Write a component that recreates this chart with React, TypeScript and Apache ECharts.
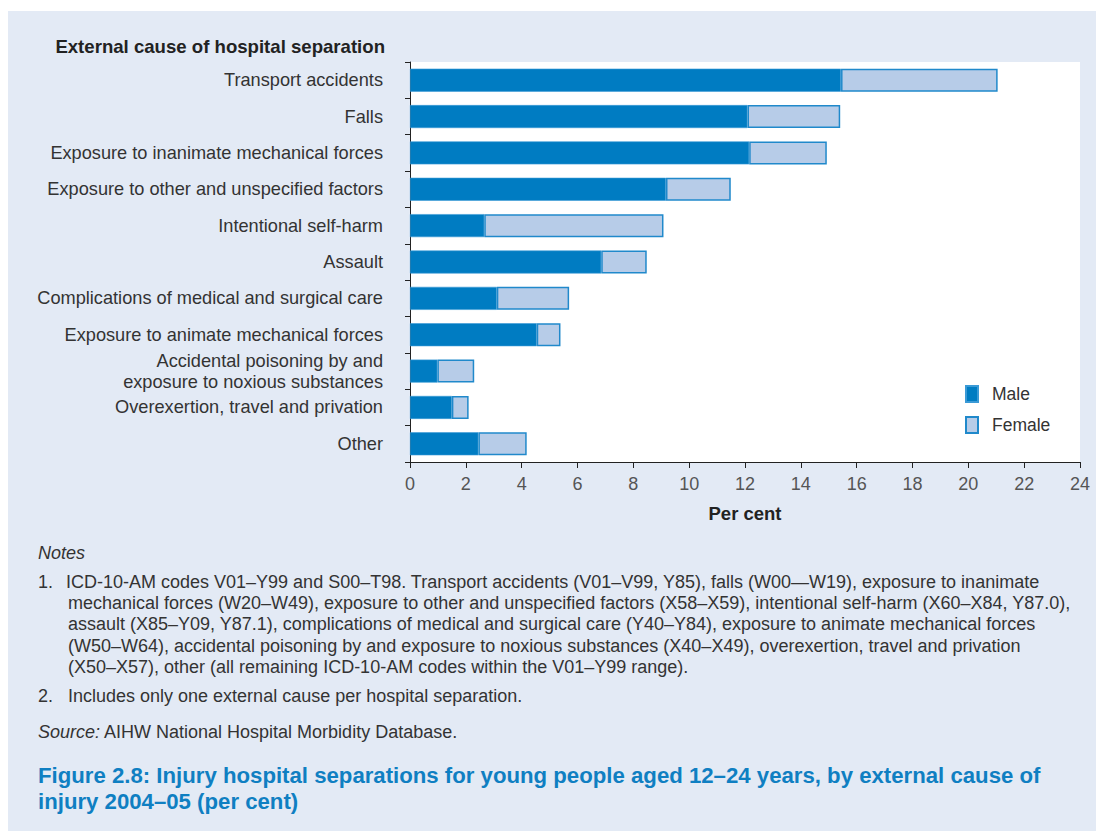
import React, { useEffect, useRef } from "react";
import * as echarts from "echarts";

const categories = [
  "Transport accidents",
  "Falls",
  "Exposure to inanimate mechanical forces",
  "Exposure to other and unspecified factors",
  "Intentional self-harm",
  "Assault",
  "Complications of medical and surgical care",
  "Exposure to animate mechanical forces",
  "Accidental poisoning by and\nexposure to noxious substances",
  "Overexertion, travel and privation",
  "Other",
];
const male = [15.44, 12.09, 12.15, 9.17, 2.66, 6.85, 3.11, 4.54, 0.98, 1.5, 2.45];
const female = [5.61, 3.32, 2.78, 2.32, 6.42, 1.63, 2.59, 0.85, 1.32, 0.6, 1.73];
const xTicks = { min: 0, max: 24, interval: 2 };

const yTitle = "External cause of hospital separation";
const xTitle = "Per cent";
const notesHead = "Notes";
const note1 = [
  "ICD-10-AM codes V01–Y99 and S00–T98. Transport accidents (V01–V99, Y85), falls (W00—W19), exposure to inanimate",
  "mechanical forces (W20–W49), exposure to other and unspecified factors (X58–X59), intentional self-harm (X60–X84, Y87.0),",
  "assault (X85–Y09, Y87.1), complications of medical and surgical care (Y40–Y84), exposure to animate mechanical forces",
  "(W50–W64), accidental poisoning by and exposure to noxious substances (X40–X49), overexertion, travel and privation",
  "(X50–X57), other (all remaining ICD-10-AM codes within the V01–Y99 range).",
];
const note2 = "Includes only one external cause per hospital separation.";
const source = "AIHW National Hospital Morbidity Database.";
const figTitle = [
  "Figure 2.8: Injury hospital separations for young people aged 12–24 years, by external cause of",
  "injury 2004–05 (per cent)",
];

const FONT = '"Liberation Sans", Arial, Helvetica, sans-serif';
const TXT = "#333333";
const MALE = "#007cc2";
const FEMALE = "#b7cce8";
const BORDER = "#2089cb";
const FS = 18;

export default function App() {
  const ref = useRef<HTMLDivElement>(null);
  useEffect(() => {
    document.body.style.margin = "0";
    if (!ref.current) return;
    const chart = echarts.init(ref.current, null, { renderer: "svg" });
    const t = (x: number, y: number, text: string, extra: any = {}) => ({
      type: "text",
      x,
      y,
      style: {
        text,
        fill: TXT,
        fontSize: FS,
        fontFamily: FONT,
        align: "left",
        verticalAlign: "middle",
        ...extra,
      },
    });
    const noteY = [582, 603, 624, 646, 667];
    const graphics: any[] = [
      t(385, 46, yTitle, { align: "right", fontWeight: "bold", fill: "#222", fontSize: 18.6 }),
      t(38, 553, notesHead, { fontStyle: "italic" }),
      t(38, 582, "1."),
      ...note1.map((s, i) => t(i === 0 ? 66 : 68, noteY[i], s)),
      t(38, 696, "2."),
      t(68, 696, note2),
      t(38, 732, "{i|Source:} " + source, {
        rich: { i: { fontStyle: "italic", fontSize: FS, fontFamily: FONT, fill: TXT } },
      }),
      ...figTitle.map((s, i) =>
        t(38, [775, 801][i], s, { fontWeight: "bold", fontSize: 22.2, fill: "#0f7fc2" })
      ),
    ];
    chart.setOption({
      animation: false,
      textStyle: { fontFamily: FONT },
      grid: {
        left: 410,
        right: 16,
        top: 62,
        bottom: 369,
        show: true,
        backgroundColor: "#ffffff",
        borderWidth: 0,
      },
      legend: {
        orient: "vertical",
        left: 965,
        top: 385,
        padding: 0,
        itemWidth: 12,
        itemHeight: 16,
        itemGap: 13,
        icon: "rect",
        textStyle: {
          fontSize: 17.5,
          lineHeight: 16,
          color: TXT,
          fontFamily: FONT,
          padding: [0, 0, 0, 9],
        },
        data: ["Male", "Female"],
      },
      xAxis: {
        type: "value",
        min: xTicks.min,
        max: xTicks.max,
        interval: xTicks.interval,
        name: xTitle,
        nameLocation: "middle",
        nameGap: 42,
        nameTextStyle: { fontSize: 18.5, fontWeight: "bold", color: "#222", fontFamily: FONT },
        axisLine: { show: true, lineStyle: { color: "#222", width: 1 } },
        axisTick: { show: true, length: 6, lineStyle: { color: "#222" } },
        axisLabel: { fontSize: FS, color: "#555", margin: 13, fontFamily: FONT },
        splitLine: { show: false },
      },
      yAxis: {
        type: "category",
        inverse: true,
        data: categories,
        axisLine: { show: true, lineStyle: { color: "#222", width: 1 } },
        axisTick: { show: true, length: 5, alignWithLabel: false, lineStyle: { color: "#222" } },
        axisLabel: { fontSize: 18.2, color: TXT, margin: 27, fontFamily: FONT, lineHeight: 21 },
      },
      series: [
        {
          name: "Male",
          type: "bar",
          stack: "total",
          barWidth: 23,
          data: male,
          itemStyle: { color: MALE, borderColor: "#3a9ad6", borderWidth: 0.6 },
        },
        {
          name: "Female",
          type: "bar",
          stack: "total",
          barWidth: 23,
          data: female,
          itemStyle: { color: FEMALE, borderColor: BORDER, borderWidth: 1.5 },
        },
      ],
      graphic: graphics,
    });
    return () => chart.dispose();
  }, []);
  return (
    <div style={{ position: "relative", width: 1096, height: 831, overflow: "hidden" }}>
      <div
        style={{
          position: "absolute",
          left: 8,
          top: 11,
          width: 1088,
          height: 820,
          background: "#e3eaf5",
        }}
      />
      <div ref={ref} style={{ position: "absolute", left: 0, top: 0, width: 1096, height: 831 }} />
    </div>
  );
}
